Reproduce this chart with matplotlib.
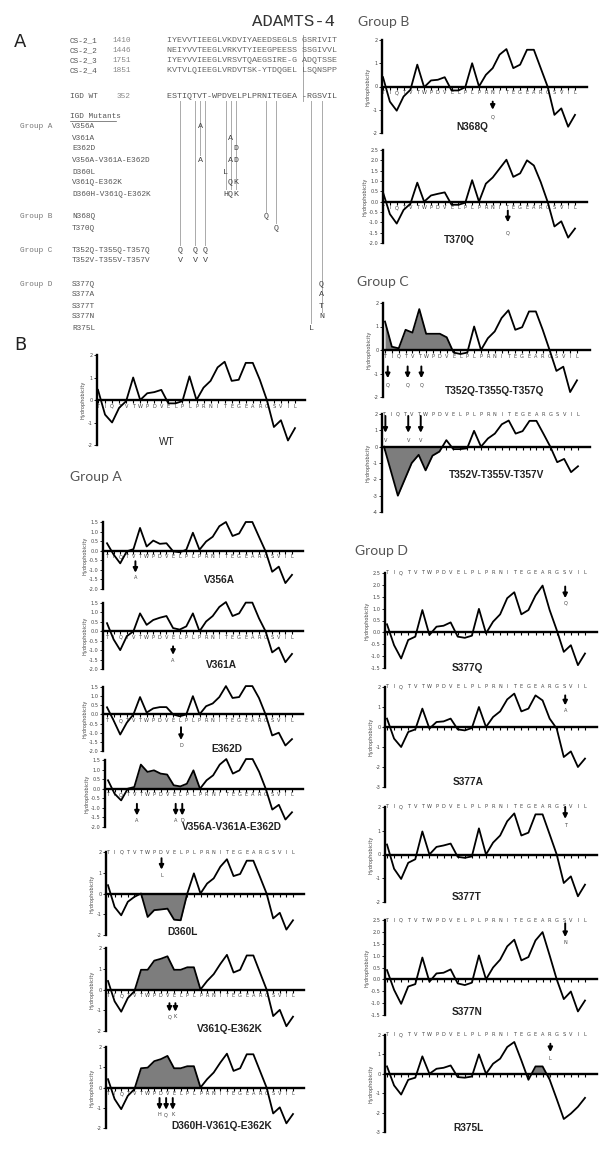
import numpy as np
import matplotlib
matplotlib.use("Agg")
import matplotlib.pyplot as plt

W, H = 607, 1156
fig = plt.figure(figsize=(W / 100, H / 100), dpi=100)

# ---------------- data ----------------
residues = list("TIQTVTWPDVELPLPRNITEGEARGSVIL")   # 352-380
pos = np.arange(len(residues))

wt    = [0.45,-0.65,-1.0,-0.35,-0.05,1.0,0.0,0.3,0.35,0.45,-0.15,-0.15,-0.05,1.05,0.0,0.55,0.85,1.45,1.7,0.85,0.9,1.65,1.65,0.9,0.0,-1.2,-0.9,-1.8,-1.25]
v356a = [0.39,-0.2,-0.66,-0.03,0.08,1.19,0.22,0.53,0.36,0.39,-0.03,-0.08,0.05,0.94,0.05,0.48,0.73,1.28,1.5,0.77,0.9,1.5,1.5,0.73,-0.03,-1.1,-0.83,-1.69,-1.26]
v361a = [0.43,-0.43,-1.0,-0.26,0.0,0.95,0.34,0.6,0.72,0.81,0.17,0.09,0.26,0.95,0.0,0.52,0.81,1.29,1.55,0.81,0.95,1.52,1.52,0.69,0.0,-1.12,-0.86,-1.64,-1.2]
e362d = [0.39,-0.33,-1.1,-0.45,0.0,0.95,0.1,0.33,0.4,0.4,0.0,-0.1,0.0,1.0,0.0,0.45,0.6,0.95,1.55,0.9,0.95,1.55,1.55,0.9,0.0,-1.15,-1.0,-1.7,-1.35]
v356a_v361a_e362d = [0.44,-0.26,-0.61,0.0,0.09,1.26,0.88,0.96,0.79,0.74,0.18,0.12,0.26,0.96,0.0,0.44,0.7,1.26,1.55,0.79,0.96,1.55,1.55,0.88,0.0,-1.09,-0.84,-1.61,-1.23]
d360l = [0.4,-0.65,-1.05,-0.4,-0.16,0.0,-1.13,-0.8,-0.77,-0.73,-1.26,-1.29,0.0,0.97,0.0,0.48,0.73,1.29,1.65,0.84,0.94,1.58,1.58,0.8,0.0,-1.2,-0.93,-1.74,-1.29]
v361q_e362k = [0.41,-0.57,-1.07,-0.41,-0.08,0.95,0.95,1.39,1.48,1.6,0.95,0.95,1.07,1.07,0.0,0.41,0.74,1.23,1.67,0.82,0.95,1.64,1.64,0.82,0.0,-1.28,-0.98,-1.77,-1.31]
d360h_v361q_e362k = [0.41,-0.57,-1.07,-0.41,-0.08,0.95,0.98,1.3,1.4,1.56,0.95,0.95,1.05,1.05,0.0,0.41,0.74,1.23,1.67,0.82,0.95,1.64,1.64,0.82,0.0,-1.28,-0.98,-1.77,-1.31]
n368q = [0.4,-0.65,-1.04,-0.43,-0.14,0.94,-0.03,0.26,0.29,0.4,-0.17,-0.17,-0.03,1.0,0.0,0.5,0.79,1.37,1.61,0.79,0.94,1.58,1.58,0.79,0.0,-1.22,-0.94,-1.73,-1.22]
t370q = [0.45,-0.6,-1.06,-0.4,-0.1,0.92,0.0,0.3,0.38,0.45,-0.15,-0.15,-0.05,1.04,0.0,0.87,1.17,1.6,2.03,1.2,1.37,2.0,1.75,0.95,0.0,-1.2,-0.95,-1.74,-1.3]
t352q_t355q_t357q = [1.21,0.14,0.07,0.86,0.74,1.74,0.69,0.69,0.69,0.54,-0.11,-0.17,-0.11,1.0,0.0,0.5,0.79,1.36,1.69,0.86,0.97,1.64,1.64,0.86,0.0,-0.89,-0.71,-1.79,-1.29]
t352v_t355v_t357v = [0.0,-1.5,-3.0,-2.0,-1.0,-0.5,-1.45,-0.55,-0.3,0.4,-0.15,-0.15,-0.1,0.97,0.0,0.5,0.8,1.37,1.6,0.8,0.95,1.58,1.58,0.8,0.0,-0.95,-0.75,-1.56,-1.2]
s377q = [0.34,-0.54,-1.1,-0.32,-0.18,0.94,-0.11,0.24,0.28,0.42,-0.18,-0.23,-0.14,0.99,-0.04,0.45,0.76,1.44,1.69,0.76,0.94,1.55,1.97,0.94,0.1,-0.82,-0.54,-1.38,-0.89]
s377a = [0.42,-0.58,-1.0,-0.25,-0.12,0.92,-0.08,0.25,0.28,0.42,-0.12,-0.17,-0.05,1.0,0.0,0.5,0.78,1.38,1.67,0.78,0.92,1.58,1.33,0.42,-0.08,-1.5,-1.22,-2.0,-1.58]
s377t = [0.42,-0.6,-1.03,-0.35,-0.2,0.97,0.0,0.32,0.38,0.46,-0.1,-0.14,-0.08,1.1,0.0,0.5,0.8,1.4,1.73,0.8,0.92,1.69,1.69,0.85,0.0,-1.2,-0.92,-1.76,-1.27]
s377n = [0.39,-0.44,-1.03,-0.3,-0.2,0.92,-0.1,0.25,0.28,0.42,-0.17,-0.24,-0.14,1.01,0.0,0.5,0.83,1.39,1.67,0.8,0.94,1.64,1.99,1.01,0.0,-0.83,-0.51,-1.35,-0.89]
r375l = [0.38,-0.6,-1.07,-0.31,-0.2,0.9,0.0,0.26,0.31,0.43,-0.17,-0.2,-0.14,1.0,0.0,0.52,0.78,1.38,1.64,0.69,-0.31,0.38,0.38,-0.3,-1.3,-2.33,-2.05,-1.7,-1.24]

# alignment (panel A)
cs_names = ["CS-2_1", "CS-2_2", "CS-2_3", "CS-2_4"]
cs_start = ["1410", "1446", "1751", "1851"]
cs_seqs = ["IYEVVTIEEGLVKDVIYAEEDSEGLS GSRIVIT",
           "NEIYVVTEEGLVRKVTYIEEGPEESS SSGIVVL",
           "IYEYVVIEEGLVRSVTQAEGSIRE-G ADQTSSE",
           "KVTVLQIEEGLVRDVTSK-YTDQGEL LSQNSPP"]
wt_aligned = "ESTIQTVT-WPDVELPLPRNITEGEA -RGSVIL"
wt_first_col = 2
wt_first_res = 352

group_a = ["V356A", "V361A", "E362D", "V356A-V361A-E362D", "D360L", "V361Q-E362K", "D360H-V361Q-E362K"]
group_b = ["N368Q", "T370Q"]
group_c = ["T352Q-T355Q-T357Q", "T352V-T355V-T357V"]
group_d = ["S377Q", "S377A", "S377T", "S377N", "R375L"]


def mut_letters(name):
    return [m[-1] for m in name.split("-")] if name != "WT" else []


# ---------------- pixel helpers ----------------
ov = fig.add_axes([0, 0, 1, 1])
ov.set_xlim(0, W)
ov.set_ylim(H, 0)
ov.axis("off")
ov.patch.set_alpha(0)

mono = "Liberation Mono"
cw = 5.05
ax0 = 170.0


def colx(c):
    return ax0 + c * cw


col_of = {}
n = 0
for c, ch in enumerate(wt_aligned):
    if c >= wt_first_col and ch not in "- ":
        col_of[wt_first_res + n] = c
        n += 1

# ---------------- panel A ----------------
ov.text(293, 22, "ADAMTS-4", family=mono, fontsize=12.5, ha="center", va="center", color="#333")
ov.text(14, 42, "A", fontsize=13, ha="left", va="center", color="#222")
ov.text(14, 345, "B", fontsize=13, ha="left", va="center", color="#222")

gray = "#555"
afs = 6.05
for i, (nm, st, sq) in enumerate(zip(cs_names, cs_start, cs_seqs)):
    yy = 41 + i * 10
    ov.text(70, yy, nm, family=mono, fontsize=5.6, va="center", color=gray)
    ov.text(112, yy, st, family=mono, fontsize=5.6, va="center", color="#888")
    ov.text(ax0 - cw / 2, yy, sq, family=mono, fontsize=afs, va="center", color="#666")
ov.text(70, 96, "IGD WT", family=mono, fontsize=5.6, va="center", color=gray)
ov.text(117, 96, str(wt_first_res), family=mono, fontsize=5.6, va="center", color="#888")
ov.text(ax0 - cw / 2, 96, wt_aligned, family=mono, fontsize=afs, va="center", color="#555")
ov.plot([303, 303], [35, 101], color="#999", lw=0.6)
ov.text(70, 117, "IGD Mutants", family=mono, fontsize=5.6, va="center", color=gray)
ov.plot([70, 116], [121, 121], color=gray, lw=0.5)

rows_y = {"Group A": [127, 138, 149, 160, 172, 183, 194],
          "Group B": [217, 228],
          "Group C": [250, 260],
          "Group D": [284, 295, 306, 317, 328]}
groups = {"Group A": group_a, "Group B": group_b, "Group C": group_c, "Group D": group_d}
lowest = {}
for g, names in groups.items():
    ys = rows_y[g]
    ov.text(20, ys[0], g, family=mono, fontsize=5.6, va="center", color="#777")
    for nm, yy in zip(names, ys):
        ov.text(72, yy, nm, family=mono, fontsize=5.6, va="center", color=gray)
        for m in nm.split("-"):
            c = col_of[int(m[1:-1])]
            ov.text(colx(c), yy, m[-1], family=mono, fontsize=afs, ha="center", va="center", color="#444")
            lowest[c] = max(lowest.get(c, 0), yy) if c not in (2, 5, 7) else 250
for c, yy in lowest.items():
    ov.plot([colx(c), colx(c)], [101, yy - 5], color="#aaa", lw=0.7)

# group headings
hfont = "Lato"
ov.text(358, 22, "Group B", family=hfont, fontsize=10, va="center", color="#555")
ov.text(357, 282, "Group C", family=hfont, fontsize=10, va="center", color="#555")
ov.text(355, 551, "Group D", family=hfont, fontsize=10, va="center", color="#555")
ov.text(70, 477, "Group A", family=hfont, fontsize=10, va="center", color="#555")

# ---------------- panel B layout ----------------
# box = (left, top, right, bottom) px; xpix = pixel of residue 0 and 28
layout = [
    dict(name="WT", vals=wt, box=(97, 355, 305, 445), xpix=(98, 295), ylim=(-2, 2), step=1, top=False,
         fill=None, ax_x=[], ay=None, lab=(9.8, -1.87)),
    dict(name="V356A", vals=v356a, box=(103, 522, 303, 589), xpix=(107, 292), ylim=(-2, 1.5), step=0.5, top=False,
         fill=None, ax_x=[4.3], ay=(-0.55, -1.15, -1.4), lab=(17.1, -1.53)),
    dict(name="V361A", vals=v361a, box=(103, 603, 303, 669), xpix=(107, 292), ylim=(-2, 1.5), step=0.5, top=False,
         fill=None, ax_x=[10.0], ay=(-0.8, -1.25, -1.57), lab=(17.4, -1.8)),
    dict(name="E362D", vals=e362d, box=(103, 687, 303, 751), xpix=(107, 292), ylim=(-2, 1.5), step=0.5, top=False,
         fill=None, ax_x=[11.2], ay=(-0.7, -1.4, -1.68), lab=(18.1, -1.9)),
    dict(name="V356A-V361A-E362D", vals=v356a_v361a_e362d, box=(105, 760, 303, 827), xpix=(108, 292), ylim=(-2, 1.5),
         step=0.5, top=False, fill=(3, 14), ax_x=[4.4, 10.3, 11.3], ay=(-0.79, -1.4, -1.67), lab=(18.8, -2.0)),
    dict(name="D360L", vals=d360l, box=(106, 852, 304, 935), xpix=(108, 293), ylim=(-2, 2), step=1, top=True,
         fill=(5, 12), ax_x=[8.1], ay=(1.7, 1.15, 0.89), lab=(11.3, -1.85)),
    dict(name="V361Q-E362K", vals=v361q_e362k, box=(106, 948, 304, 1031), xpix=(108, 293), ylim=(-2, 2), step=1,
         top=False, fill=(4, 14), ax_x=[9.3, 10.2], ay=(-0.66, -1.07, -1.31), lab=(18.4, -1.9)),
    dict(name="D360H-V361Q-E362K", vals=d360h_v361q_e362k, box=(106, 1047, 304, 1128), xpix=(108, 293), ylim=(-2, 2),
         step=1, top=False, fill=(4, 14), ax_x=[7.8, 8.8, 9.8], ay=(-0.52, -1.1, -1.34), lab=(17.2, -1.9)),
    dict(name="N368Q", vals=n368q, box=(382, 40, 587, 133), xpix=(383, 575), ylim=(-2, 2), step=1, top=False,
         fill=None, ax_x=[16.0], ay=(-0.65, -1.0, -1.3), lab=(13.0, -1.73)),
    dict(name="T370Q", vals=t370q, box=(383, 150, 587, 243), xpix=(383, 575), ylim=(-2, 2.5), step=0.5, top=False,
         fill=None, ax_x=[18.2], ay=(-0.43, -1.0, -1.5), lab=(11.2, -1.84)),
    dict(name="T352Q-T355Q-T357Q", vals=t352q_t355q_t357q, box=(383, 303, 590, 397), xpix=(385, 577), ylim=(-2, 2),
         step=1, top=False, fill=(0, 10), ax_x=[0.4, 3.3, 5.3], ay=(-0.7, -1.2, -1.5), lab=(16.0, -1.74)),
    dict(name="T352V-T355V-T357V", vals=t352v_t355v_t357v, box=(382, 414, 590, 512), xpix=(384, 578), ylim=(-4, 2),
         step=1, top=True, fill=(0, 8.6), ax_x=[0.2, 3.5, 5.3], ay=(1.88, 0.85, 0.36), lab=(16.2, -1.76)),
    dict(name="S377Q", vals=s377q, box=(385, 573, 597, 668), xpix=(387, 585), ylim=(-1.5, 2.5), step=0.5, top=True,
         fill=None, ax_x=[25.2], ay=(1.93, 1.44, 1.23), lab=(11.3, -1.52)),
    dict(name="S377A", vals=s377a, box=(385, 687, 597, 787), xpix=(387, 585), ylim=(-3, 2), step=1, top=True,
         fill=None, ax_x=[25.2], ay=(1.58, 1.08, 0.83), lab=(11.5, -2.75)),
    dict(name="S377T", vals=s377t, box=(385, 807, 597, 902), xpix=(387, 585), ylim=(-2, 2), step=1, top=True,
         fill=None, ax_x=[25.2], ay=(2.0, 1.5, 1.22), lab=(11.3, -1.81)),
    dict(name="S377N", vals=s377n, box=(385, 920, 597, 1015), xpix=(387, 585), ylim=(-1.5, 2.5), step=0.5, top=True,
         fill=None, ax_x=[25.2], ay=(2.36, 1.78, 1.57), lab=(11.3, -1.38)),
    dict(name="R375L", vals=r375l, box=(385, 1035, 597, 1132), xpix=(387, 585), ylim=(-3, 2), step=1, top=True,
         fill=(20.6, 23), ax_x=[23.1], ay=(1.55, 1.12, 0.78), lab=(11.5, -2.78)),
]

sfs = 3.6
for p in layout:
    left, top, right, bottom = p["box"]
    ax = fig.add_axes([left / W, 1 - bottom / H, (right - left) / W, (bottom - top) / H])
    ax.patch.set_alpha(0)
    x0, x28 = p["xpix"]
    s = (x28 - x0) / 28.0
    ax.set_xlim((left - x0) / s, (right - x0) / s)
    lo, hi = p["ylim"]
    ax.set_ylim(lo, hi)
    y = np.array(p["vals"])
    if p["fill"]:
        a, b = p["fill"]
        ax.fill_between(pos, y, 0, where=(pos >= a) & (pos <= b), interpolate=True,
                        color="#7d7d7d", lw=0, zorder=2)
    ax.plot(pos, y, color="k", lw=1.3, zorder=3, clip_on=False)
    for sp in ("top", "right"):
        ax.spines[sp].set_visible(False)
    ax.spines["left"].set_linewidth(1.7)
    ax.spines["bottom"].set_position(("data", 0))
    ax.spines["bottom"].set_linewidth(1.7)
    ticks = np.arange(lo, hi + 0.001, p["step"])
    ax.set_yticks(ticks)
    if p["step"] < 1:
        ax.set_yticklabels(["%.1f" % t for t in ticks])
    else:
        ax.set_yticklabels(["%d" % t for t in ticks])
    ax.tick_params(axis="y", labelsize=sfs, length=2, width=0.6, pad=1, labelcolor="#444")
    ax.set_xticks(pos)
    if p["top"]:
        ax.set_xticklabels([])
        for i, r in enumerate(residues):
            ax.text(i, hi, r, fontsize=sfs, ha="center", va="center", color="#444")
    else:
        ax.set_xticklabels(residues)
    ax.tick_params(axis="x", labelsize=sfs, length=1.8, width=0.8, pad=0.8, labelcolor="#444")
    ax.set_ylabel("Hydrophobicity", fontsize=sfs, labelpad=1.5, color="#444")
    if p["ay"]:
        y1, y2, yl = p["ay"]
        for xa, let in zip(p["ax_x"], mut_letters(p["name"])):
            ax.annotate("", xy=(xa, y2), xytext=(xa, y1),
                        arrowprops=dict(arrowstyle="-|>", color="k", lw=1.4, mutation_scale=6.5,
                                        shrinkA=0, shrinkB=0), annotation_clip=False)
            ax.text(xa, yl, let, fontsize=sfs, ha="center", va="center", color="#444")
    wgt = "normal" if p["name"] == "WT" else "bold"
    ax.text(p["lab"][0], p["lab"][1], p["name"], fontsize=7.3, fontweight=wgt,
            family="Liberation Sans", ha="center", va="center", color="#222")

fig.savefig("out.png", dpi=100)
